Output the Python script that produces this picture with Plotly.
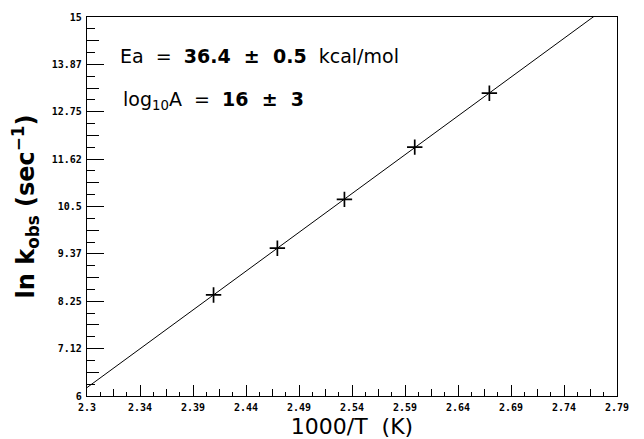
import plotly.graph_objects as go
import numpy as np

# data
inv_T = [2.417, 2.476, 2.538, 2.603, 2.672]
ln_k = [8.40, 9.51, 10.67, 11.91, 13.19]

x_ticks = [2.3, 2.349, 2.398, 2.447, 2.496, 2.545, 2.594, 2.643, 2.692, 2.741, 2.79]
x_labels = ["2.3", "2.34", "2.39", "2.44", "2.49", "2.54", "2.59", "2.64", "2.69", "2.74", "2.79"]
y_ticks = [6, 7.125, 8.25, 9.375, 10.5, 11.625, 12.75, 13.875, 15]
y_labels = ["6", "7.12", "8.25", "9.37", "10.5", "11.62", "12.75", "13.87", "15"]

x_range = [2.3, 2.79]
y_range = [6, 15]

# least-squares line through the points, drawn across the axis range
slope, icpt = np.polyfit(inv_T, ln_k, 1)
fit_x = np.array(x_range)
fit_y = slope * fit_x + icpt

x_mid = [(a + b) / 2 for a, b in zip(x_ticks[:-1], x_ticks[1:])]
y_mid = [(a + b) / 2 for a, b in zip(y_ticks[:-1], y_ticks[1:])]

tick_font = dict(family="DejaVu Sans Mono", size=10, color="black", weight="bold")

fig = go.Figure()
fig.add_trace(go.Scatter(x=fit_x, y=fit_y, mode="lines",
                         line=dict(color="black", width=1), showlegend=False))
fig.add_trace(go.Scatter(x=inv_T, y=ln_k, mode="markers",
                         marker=dict(symbol="cross-thin", size=11,
                                     line=dict(color="black", width=1.7)),
                         showlegend=False))

# the page body has an 8px default margin, so the figure is 8px smaller
fig.update_layout(
    width=636, height=431,
    margin=dict(l=79, r=27, t=9, b=43),
    paper_bgcolor="white", plot_bgcolor="white",
    font=dict(family="DejaVu Sans", color="black"),
    xaxis=dict(range=x_range, tickmode="array", tickvals=x_ticks, ticktext=x_labels,
               ticks="inside", ticklen=11, tickwidth=1, tickcolor="black",
               tickfont=tick_font, ticklabelstandoff=2, automargin=False,
               showline=True, linecolor="black", linewidth=1.3, mirror=True,
               showgrid=False, zeroline=False,
               minor=dict(tick0=2.3, dtick=0.01225, ticks="inside", ticklen=4,
                          tickcolor="black", tickwidth=1, showgrid=False),
               title=dict(text="1000/T  (K)",
                          font=dict(family="DejaVu Sans", size=22), standoff=9)),
    yaxis=dict(range=y_range, tickmode="array", tickvals=y_ticks, ticktext=y_labels,
               ticks="inside", ticklen=17, tickwidth=1, tickcolor="black",
               tickfont=tick_font, ticklabelstandoff=2, automargin=False,
               showline=True, linecolor="black", linewidth=1.3, mirror=True,
               showgrid=False, zeroline=False,
               minor=dict(tick0=6, dtick=0.28125, ticks="inside", ticklen=8,
                          tickcolor="black", tickwidth=1, showgrid=False),
               title=dict(text="<b>ln k<sub>obs</sub> (sec<sup>−1</sup>)</b>",
                          font=dict(family="DejaVu Sans", size=24), standoff=12)),
    xaxis2=dict(range=x_range, overlaying="x", anchor="y", side="bottom",
                tickmode="array", tickvals=x_mid, showticklabels=False,
                ticks="inside", ticklen=7, tickcolor="black", tickwidth=1,
                showgrid=False, zeroline=False, showline=False),
    yaxis2=dict(range=y_range, overlaying="y", anchor="x", side="left",
                tickmode="array", tickvals=y_mid, showticklabels=False,
                ticks="inside", ticklen=12, tickcolor="black", tickwidth=1,
                showgrid=False, zeroline=False, showline=False),
    annotations=[
        dict(xref="paper", yref="paper", x=0.058, y=0.897, xanchor="left", yanchor="middle",
             showarrow=False, font=dict(family="DejaVu Sans", size=19),
             text="Ea  =  <b>36.4  ±  0.5</b>  kcal/mol"),
        dict(xref="paper", yref="paper", x=0.065, y=0.781, xanchor="left", yanchor="middle",
             showarrow=False, font=dict(family="DejaVu Sans", size=19),
             text="log<sub>10</sub>A  =  <b>16  ±  3</b>"),
    ],
)
# invisible helper trace so the overlay axes are drawn
fig.add_trace(go.Scatter(x=[None], y=[None], xaxis="x2", yaxis="y2", showlegend=False))

fig.write_html("out.html")
